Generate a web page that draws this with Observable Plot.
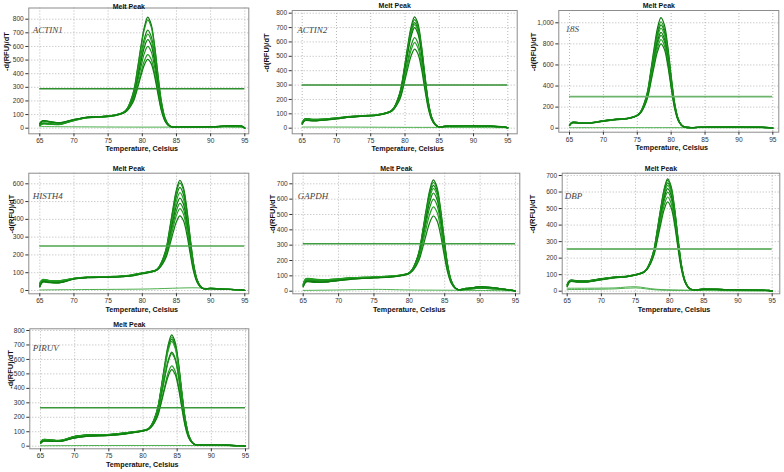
<!DOCTYPE html>
<html><head><meta charset="utf-8">
<script src="https://cdn.jsdelivr.net/npm/d3@7"></script>
<script src="https://cdn.jsdelivr.net/npm/@observablehq/plot@0.6"></script>
<style>
html,body{margin:0;padding:0;background:#fff}
#chart{position:relative;width:784px;height:472px;overflow:hidden;background:#fff}
#chart svg{position:absolute;background:transparent}
</style>
</head><body><div id="chart"></div>
<script>
// ---------- tick labels ----------
const xTicks = [65, 70, 75, 80, 85, 90, 95];
const yTicks600 = [0, 100, 200, 300, 400, 500, 600];
const yTicks700 = [0, 100, 200, 300, 400, 500, 600, 700];
const yTicks800 = [0, 100, 200, 300, 400, 500, 600, 700, 800];
const yTicks1000 = [0, 200, 400, 600, 800, 1000];

// ---------- ACTIN1 ----------
const ACTIN1_temps = [65, 65.4, 66.5, 68, 70, 72, 74, 76, 77.3, 77.8, 78.3, 78.8, 79.3, 79.8, 80.3, 80.8, 81.3, 81.8, 82.3, 82.8, 83.3, 83.8, 84.3, 86, 90, 94.5, 95];
const ACTIN1_curves = [
  [20, 32, 30, 30, 58, 80, 85, 95, 119, 145, 202, 286, 439, 600, 742, 815, 762, 607, 391, 195, 79, 28, 10, 8, 8, 14, 0],
  [25, 38, 34, 32, 60, 82, 86, 97, 118, 144, 199, 281, 429, 587, 725, 795, 744, 593, 382, 190, 77, 28, 10, 9, 9, 15, 0],
  [30, 52, 46, 40, 62, 78, 82, 92, 117, 140, 189, 262, 394, 534, 657, 720, 674, 538, 347, 174, 71, 26, 10, 9, 10, 15, 0],
  [18, 30, 28, 28, 55, 78, 84, 96, 116, 139, 185, 255, 380, 513, 630, 690, 646, 516, 334, 167, 69, 25, 10, 8, 9, 14, 0],
  [35, 55, 48, 42, 64, 80, 84, 94, 115, 137, 180, 245, 361, 485, 594, 650, 609, 487, 315, 159, 66, 24, 10, 10, 10, 16, 0],
  [22, 35, 32, 30, 57, 80, 86, 98, 114, 135, 174, 232, 338, 450, 549, 600, 562, 450, 292, 148, 62, 23, 10, 9, 9, 15, 0],
  [28, 50, 44, 38, 60, 76, 82, 92, 113, 132, 166, 218, 309, 408, 495, 540, 506, 406, 265, 134, 57, 22, 10, 10, 10, 15, 0],
  [32, 54, 47, 40, 63, 79, 83, 93, 112, 130, 161, 209, 293, 384, 464, 505, 474, 381, 249, 127, 54, 22, 10, 10, 11, 16, 0]
];
const ACTIN1_ntcTemps = [65, 70, 80, 90, 95];
const ACTIN1_ntc = [[12, 10, 8, 8, 5]];
const ACTIN1_threshold = 290;

// ---------- ACTIN2 ----------
const ACTIN2_temps = [65, 65.4, 66.5, 68, 70, 72, 74, 76, 77.9, 78.4, 78.9, 79.4, 79.9, 80.4, 80.9, 81.4, 81.9, 82.4, 82.9, 83.4, 83.9, 84.4, 84.9, 86, 89, 92, 94.5, 95];
const ACTIN2_curves = [
  [35, 62, 60, 62, 70, 80, 86, 92, 119, 144, 197, 277, 420, 573, 707, 775, 725, 578, 373, 187, 76, 28, 10, 15, 16, 14, 8, 3],
  [28, 52, 50, 55, 65, 76, 84, 90, 118, 143, 194, 272, 411, 559, 689, 755, 706, 563, 363, 182, 74, 27, 10, 12, 18, 16, 8, 2],
  [40, 66, 62, 64, 72, 82, 88, 95, 118, 142, 192, 267, 401, 545, 671, 735, 688, 549, 354, 178, 73, 27, 10, 14, 17, 15, 7, 3],
  [33, 60, 58, 60, 69, 79, 86, 93, 117, 141, 190, 263, 394, 534, 657, 720, 674, 538, 347, 174, 72, 26, 10, 15, 16, 14, 8, 2],
  [30, 55, 53, 57, 66, 77, 85, 91, 117, 140, 187, 258, 385, 520, 639, 700, 655, 523, 338, 170, 70, 26, 10, 13, 17, 15, 8, 3],
  [42, 65, 61, 63, 71, 81, 87, 94, 116, 137, 178, 241, 352, 471, 576, 630, 590, 472, 306, 155, 64, 25, 10, 14, 18, 15, 7, 2],
  [36, 60, 57, 60, 68, 78, 85, 92, 115, 135, 173, 232, 336, 447, 545, 595, 557, 446, 290, 147, 62, 24, 10, 15, 16, 14, 8, 3],
  [30, 54, 52, 56, 66, 77, 84, 90, 114, 133, 168, 221, 315, 415, 504, 550, 516, 414, 269, 137, 58, 23, 10, 13, 17, 15, 8, 2]
];
const ACTIN2_ntcTemps = [65, 70, 80, 90, 95];
const ACTIN2_ntc = [[8, 8, 6, 5, 3]];
const ACTIN2_threshold = 300;

// ---------- 18S ----------
const r18S_temps = [65, 65.4, 66.5, 68, 70, 72, 73.5, 75, 75.5, 76, 76.5, 77, 77.5, 78, 78.5, 79, 79.5, 80, 80.5, 81, 81.5, 82, 85, 88, 91, 94.5, 95];
const r18S_curves = [
  [30, 55, 52, 50, 70, 86, 92, 124, 158, 233, 346, 550, 765, 954, 1050, 981, 779, 499, 247, 98, 33, 10, 10, 12, 10, 6, 0],
  [25, 50, 48, 48, 66, 82, 90, 123, 156, 227, 336, 531, 737, 918, 1010, 943, 749, 481, 238, 95, 32, 10, 9, 11, 10, 6, 0],
  [32, 56, 53, 51, 71, 87, 93, 123, 154, 223, 328, 517, 716, 891, 980, 915, 727, 467, 232, 92, 32, 10, 10, 12, 10, 6, 0],
  [26, 51, 49, 49, 67, 83, 91, 122, 153, 220, 321, 503, 695, 864, 950, 888, 706, 453, 225, 90, 31, 10, 9, 11, 9, 5, 0],
  [30, 54, 51, 50, 69, 85, 92, 121, 151, 214, 311, 484, 667, 828, 910, 850, 676, 435, 216, 87, 30, 10, 10, 12, 10, 6, 0],
  [24, 49, 47, 47, 65, 81, 89, 121, 149, 210, 303, 470, 646, 801, 880, 822, 654, 421, 210, 84, 30, 10, 9, 11, 9, 5, 0],
  [31, 56, 52, 51, 70, 86, 93, 120, 147, 205, 293, 451, 618, 765, 840, 785, 625, 402, 201, 81, 29, 10, 10, 12, 10, 6, 0],
  [27, 52, 49, 48, 67, 83, 90, 119, 145, 200, 283, 432, 590, 729, 800, 748, 596, 384, 192, 78, 28, 10, 9, 11, 9, 5, 0]
];
const r18S_ntcTemps = [65, 70, 80, 90, 95];
const r18S_ntc = [[5, 5, 5, 4, 2]];
const r18S_threshold = 300;

// ---------- HISTH4 ----------
const HISTH4_temps = [65, 65.4, 66.5, 68, 70, 72, 75, 78, 80, 82, 82.5, 83, 83.5, 84, 84.5, 85, 85.5, 86, 86.5, 87, 87.5, 88, 88.5, 89, 90, 92, 94.5, 95];
const HISTH4_curves = [
  [40, 60, 55, 55, 68, 74, 76, 82, 98, 115, 136, 177, 238, 347, 464, 567, 620, 581, 465, 301, 152, 64, 24, 10, 12, 8, 3, 0],
  [22, 48, 45, 44, 65, 72, 75, 80, 95, 115, 135, 175, 234, 340, 454, 554, 605, 567, 454, 294, 149, 62, 24, 10, 11, 7, 3, 0],
  [30, 55, 50, 50, 67, 76, 78, 85, 100, 115, 134, 171, 228, 329, 436, 531, 580, 543, 435, 283, 144, 60, 24, 10, 12, 8, 3, 0],
  [38, 58, 54, 54, 68, 74, 77, 83, 97, 114, 133, 168, 221, 315, 415, 504, 550, 516, 414, 269, 137, 58, 23, 10, 12, 8, 3, 0],
  [24, 50, 46, 45, 66, 73, 75, 81, 96, 113, 131, 164, 213, 300, 394, 477, 520, 488, 392, 255, 130, 56, 22, 10, 11, 7, 3, 0],
  [32, 56, 51, 50, 67, 75, 78, 84, 99, 113, 130, 160, 206, 286, 373, 450, 490, 460, 370, 241, 124, 53, 22, 10, 12, 8, 3, 0],
  [42, 62, 56, 55, 69, 75, 76, 82, 97, 112, 128, 156, 198, 272, 352, 423, 460, 432, 348, 228, 117, 51, 21, 10, 12, 8, 3, 0],
  [20, 46, 44, 44, 64, 72, 74, 80, 94, 111, 126, 151, 188, 253, 324, 387, 420, 395, 319, 209, 108, 48, 20, 10, 11, 7, 3, 0]
];
const HISTH4_ntcTemps = [65, 70, 80, 88, 90, 95];
const HISTH4_ntc = [[3, 5, 8, 15, 10, 2]];
const HISTH4_threshold = 250;

// ---------- GAPDH ----------
const GAPDH_temps = [65, 65.4, 66.5, 68, 70, 72, 75, 78, 79.9, 80.4, 80.9, 81.4, 81.9, 82.4, 82.9, 83.4, 83.9, 84.4, 84.9, 85.4, 85.9, 86.4, 86.9, 88, 90, 92, 94.5, 95];
const GAPDH_curves = [
  [45, 80, 78, 74, 80, 88, 92, 100, 118, 141, 190, 264, 397, 538, 662, 725, 678, 541, 350, 176, 72, 27, 10, 18, 25, 20, 6, 2],
  [30, 62, 60, 60, 70, 80, 88, 96, 117, 141, 188, 261, 390, 527, 648, 710, 664, 530, 343, 172, 71, 26, 10, 15, 28, 22, 5, 2],
  [38, 70, 68, 67, 75, 84, 90, 98, 117, 140, 186, 256, 380, 513, 630, 690, 646, 516, 333, 168, 69, 26, 10, 12, 20, 15, 5, 1],
  [42, 78, 76, 72, 79, 87, 92, 100, 116, 139, 183, 251, 371, 499, 612, 670, 627, 501, 324, 163, 68, 25, 10, 18, 25, 20, 6, 2],
  [32, 64, 62, 61, 71, 81, 88, 96, 116, 137, 179, 243, 357, 478, 585, 640, 599, 479, 310, 157, 65, 25, 10, 15, 28, 22, 5, 2],
  [36, 72, 70, 68, 76, 85, 90, 98, 115, 135, 174, 233, 338, 450, 549, 600, 562, 450, 292, 148, 62, 24, 10, 12, 20, 15, 5, 1],
  [44, 82, 79, 75, 81, 88, 93, 101, 114, 133, 168, 221, 315, 415, 504, 550, 516, 414, 269, 137, 58, 23, 10, 18, 25, 20, 6, 2],
  [28, 60, 58, 59, 69, 79, 87, 95, 113, 130, 160, 206, 286, 373, 450, 490, 460, 370, 241, 124, 53, 22, 10, 15, 28, 22, 5, 2]
];
const GAPDH_ntcTemps = [65, 70, 75, 80, 90, 95];
const GAPDH_ntc = [[5, 8, 12, 8, 5, 2]];
const GAPDH_threshold = 310;

// ---------- DBP ----------
const DBP_temps = [65, 65.4, 66.5, 68, 70, 72, 74, 76.2, 76.7, 77.2, 77.7, 78.2, 78.7, 79.2, 79.7, 80.2, 80.7, 81.2, 81.7, 82.2, 82.7, 83.2, 85, 88, 91, 94.5, 95];
const DBP_curves = [
  [40, 65, 62, 62, 75, 86, 92, 117, 139, 184, 253, 376, 506, 621, 680, 636, 508, 329, 166, 68, 26, 10, 12, 10, 9, 5, 1],
  [30, 58, 56, 57, 70, 82, 90, 116, 139, 183, 251, 371, 499, 612, 670, 627, 501, 324, 163, 68, 25, 10, 11, 10, 8, 4, 1],
  [38, 64, 61, 61, 74, 85, 92, 116, 138, 181, 247, 364, 489, 599, 655, 613, 490, 317, 160, 66, 25, 10, 12, 10, 9, 5, 1],
  [32, 60, 57, 58, 71, 83, 90, 116, 137, 179, 243, 357, 478, 585, 640, 599, 479, 310, 157, 65, 25, 10, 11, 10, 8, 4, 1],
  [42, 66, 63, 63, 76, 86, 93, 115, 136, 177, 238, 347, 464, 567, 620, 581, 465, 301, 152, 64, 24, 10, 12, 10, 9, 5, 1],
  [28, 57, 55, 56, 69, 81, 89, 115, 135, 174, 233, 338, 450, 549, 600, 562, 450, 292, 148, 62, 24, 10, 11, 10, 8, 4, 1],
  [36, 63, 60, 61, 74, 85, 91, 114, 134, 170, 226, 324, 429, 522, 570, 534, 428, 278, 141, 60, 23, 10, 12, 10, 9, 5, 1],
  [30, 59, 57, 57, 71, 83, 90, 114, 132, 166, 218, 310, 408, 495, 540, 506, 406, 264, 135, 57, 23, 10, 11, 10, 8, 4, 1]
];
const DBP_ntcTemps = [65, 68, 72, 75, 78, 85, 95];
const DBP_ntc = [[18, 18, 20, 27, 12, 5, 2], [10, 11, 14, 20, 8, 4, 2]];
const DBP_threshold = 255;

// ---------- PIRUV ----------
const PIRUV_temps = [65, 65.4, 66.5, 68, 70, 72, 75, 78, 80.7, 81.2, 81.7, 82.2, 82.7, 83.2, 83.7, 84.2, 84.7, 85.2, 85.7, 86.2, 86.7, 87.2, 87.7, 90, 92, 94.5, 95];
const PIRUV_curves = [
  [28, 45, 42, 40, 68, 78, 80, 95, 118, 144, 196, 276, 418, 569, 702, 770, 720, 574, 370, 185, 76, 27, 10, 10, 8, 3, 0],
  [20, 35, 34, 35, 58, 70, 75, 90, 118, 143, 194, 272, 411, 559, 689, 755, 706, 563, 363, 182, 74, 27, 10, 9, 7, 3, 0],
  [30, 46, 43, 41, 69, 79, 81, 96, 118, 142, 192, 268, 404, 548, 675, 740, 692, 552, 356, 179, 73, 27, 10, 10, 8, 3, 0],
  [22, 36, 35, 36, 59, 71, 76, 91, 118, 141, 190, 264, 397, 538, 662, 725, 678, 541, 350, 176, 72, 27, 10, 9, 7, 3, 0],
  [26, 44, 41, 39, 66, 77, 79, 94, 116, 138, 181, 246, 362, 485, 594, 650, 609, 487, 315, 159, 66, 25, 10, 10, 8, 3, 0],
  [18, 34, 33, 34, 57, 69, 74, 89, 116, 137, 179, 243, 357, 478, 585, 640, 599, 479, 310, 157, 65, 25, 10, 9, 7, 3, 0],
  [29, 46, 42, 40, 67, 77, 80, 95, 114, 133, 168, 222, 317, 419, 509, 555, 520, 417, 271, 138, 58, 23, 10, 10, 8, 3, 0],
  [21, 36, 34, 35, 58, 70, 75, 90, 114, 132, 165, 216, 305, 401, 486, 530, 497, 399, 260, 133, 56, 23, 10, 9, 7, 3, 0]
];
const PIRUV_ntcTemps = [65, 75, 85, 95];
const PIRUV_ntc = [[3, 5, 5, 2]];
const PIRUV_threshold = 265;

// ---------- layout ----------
const palette = ["#0a730a", "#1c941c", "#0f840f", "#27a527", "#0b780b", "#1a8f1a", "#229e22", "#0e7e0e"];
const panels = [
  {gene: "ACTIN1", temps: ACTIN1_temps, curves: ACTIN1_curves, ntcTemps: ACTIN1_ntcTemps, ntc: ACTIN1_ntc, threshold: ACTIN1_threshold, yTicks: yTicks800, thrColor: "#2f8f2f", thrWidth: 1.5,
   box: {L: 28.3, R: 248.3, T: 7.5, B: 133.3, x65: 39.3, x95: 244.3, y0: 127.7, yRef: 18.7, yv: 800}, titleDy: -3.5, gx: 4, gy: 18.5, ylabDx: -22.5, xlabDy: 17},
  {gene: "ACTIN2", temps: ACTIN2_temps, curves: ACTIN2_curves, ntcTemps: ACTIN2_ntcTemps, ntc: ACTIN2_ntc, threshold: ACTIN2_threshold, yTicks: yTicks800, thrColor: "#2f8f2f", thrWidth: 1.5,
   box: {L: 291.7, R: 516.7, T: 10, B: 133.3, x65: 301.7, x95: 507.3, y0: 127.7, yRef: 12.7, yv: 800}, titleDy: -7, gx: 5, gy: 16, ylabDx: -25.7, xlabDy: 17},
  {gene: "18S", temps: r18S_temps, curves: r18S_curves, ntcTemps: r18S_ntcTemps, ntc: r18S_ntc, threshold: r18S_threshold, yTicks: yTicks1000, thrColor: "#6cb46c", thrWidth: 1.8,
   box: {L: 558.3, R: 778.3, T: 10, B: 131.7, x65: 569, x95: 772.3, y0: 127.7, yRef: 22.3, yv: 1000}, titleDy: -7, gx: 6.7, gy: 15, ylabDx: -25, xlabDy: 18},
  {gene: "HISTH4", temps: HISTH4_temps, curves: HISTH4_curves, ntcTemps: HISTH4_ntcTemps, ntc: HISTH4_ntc, threshold: HISTH4_threshold, yTicks: yTicks600, thrColor: "#4ea44e", thrWidth: 1.5,
   box: {L: 28.3, R: 248.3, T: 172.7, B: 293.3, x65: 39.3, x95: 244.3, y0: 290, yRef: 183.3, yv: 600}, titleDy: -7, gx: 4, gy: 19, ylabDx: -17, xlabDy: 18},
  {gene: "GAPDH", temps: GAPDH_temps, curves: GAPDH_curves, ntcTemps: GAPDH_ntcTemps, ntc: GAPDH_ntc, threshold: GAPDH_threshold, yTicks: yTicks700, thrColor: "#3f9c3f", thrWidth: 1.5,
   box: {L: 292.3, R: 519.3, T: 172.7, B: 293.3, x65: 302.7, x95: 515, y0: 290.7, yRef: 183.3, yv: 700}, titleDy: -7, gx: 5, gy: 19, ylabDx: -20, xlabDy: 18},
  {gene: "DBP", temps: DBP_temps, curves: DBP_curves, ntcTemps: DBP_ntcTemps, ntc: DBP_ntc, threshold: DBP_threshold, yTicks: yTicks700, thrColor: "#72b872", thrWidth: 2,
   box: {L: 561.7, R: 779.3, T: 172.7, B: 293.3, x65: 566.7, x95: 771.7, y0: 290.7, yRef: 175, yv: 700}, titleDy: -7, gx: 2.6, gy: 19, ylabDx: -30, xlabDy: 18},
  {gene: "PIRUV", temps: PIRUV_temps, curves: PIRUV_curves, ntcTemps: PIRUV_ntcTemps, ntc: PIRUV_ntc, threshold: PIRUV_threshold, yTicks: yTicks800, thrColor: "#3a983a", thrWidth: 1.5,
   box: {L: 29.3, R: 248.3, T: 328.3, B: 448.3, x65: 40, x95: 245, y0: 445.7, yRef: 330, yv: 800}, titleDy: -7, gx: 3, gy: 16, ylabDx: -19, xlabDy: 18}
];

const chart = document.getElementById("chart");
const sans = "'Liberation Sans', Arial, Helvetica, sans-serif";

function drawPanel(p) {
  const b = p.box;
  const left = Math.floor(b.L - 34), top = Math.floor(b.T - 12);
  const right = Math.min(784, Math.ceil(b.R + 4)), bottom = Math.ceil(b.B + 24);
  const kx = (b.x95 - b.x65) / 30;
  const xDomain = [65 - (b.x65 - b.L) / kx, 95 + (b.R - b.x95) / kx];
  const ky = (b.y0 - b.yRef) / b.yv;
  const yDomain = [-(b.B - b.y0) / ky, b.yv + (b.yRef - b.T) / ky];
  const grid = {stroke: "#9a9a9a", strokeOpacity: 0.9, strokeWidth: 0.8, strokeDasharray: "1,2"};
  const marks = [
    Plot.gridX(xTicks, grid),
    Plot.gridY(p.yTicks, grid),
    ...p.ntc.map(vals => Plot.line(vals, {x: (d, j) => p.ntcTemps[j], y: d => d, stroke: "#4caf4c", strokeWidth: 1, curve: "catmull-rom"})),
    ...p.curves.map((vals, i) => Plot.line(vals, {x: (d, j) => p.temps[j], y: d => d, stroke: palette[i % palette.length], strokeWidth: 1.2, curve: "catmull-rom"})),
    Plot.ruleY([p.threshold], {x1: 65, x2: 95, stroke: p.thrColor, strokeWidth: p.thrWidth}),
    Plot.frame({stroke: "#8c8c8c", strokeWidth: 1}),
    Plot.axisX({ticks: xTicks, tickSize: 3, tickPadding: 2, fontSize: 6.6, label: null, color: "#333"}),
    Plot.axisY({ticks: p.yTicks, tickSize: 3, tickPadding: 2, fontSize: 6.6, label: null, color: "#333"}),
    Plot.text(["Melt Peak"], {frameAnchor: "top", dx: -10, dy: p.titleDy, text: d => d, fontWeight: "bold", fontSize: 7, fill: "#111"}),
    Plot.text([p.gene], {frameAnchor: "top-left", dx: p.gx, dy: p.gy, text: d => d, textAnchor: "start",
      fontFamily: "'Liberation Serif', 'Times New Roman', serif", fontStyle: "italic", fontSize: 9, fill: "#444"}),
    Plot.text(["Temperature, Celsius"], {frameAnchor: "bottom", dx: 3, dy: p.xlabDy, text: d => d, fontWeight: "bold", fontSize: 7.2, fill: "#111"}),
    Plot.text(["-d(RFU)/dT"], {frameAnchor: "left", dx: p.ylabDx, rotate: -90, text: d => d, fontWeight: "bold", fontSize: 7.5, fill: "#111"})
  ];
  const svg = Plot.plot({
    width: right - left, height: bottom - top,
    marginLeft: b.L - left, marginRight: right - b.R, marginTop: b.T - top, marginBottom: bottom - b.B,
    x: {domain: xDomain}, y: {domain: yDomain},
    style: {fontFamily: sans, background: "transparent", color: "#222", overflow: "visible"},
    marks
  });
  svg.style.left = left + "px";
  svg.style.top = top + "px";
  chart.append(svg);
}
panels.forEach(drawPanel);
</script>
</body></html>
